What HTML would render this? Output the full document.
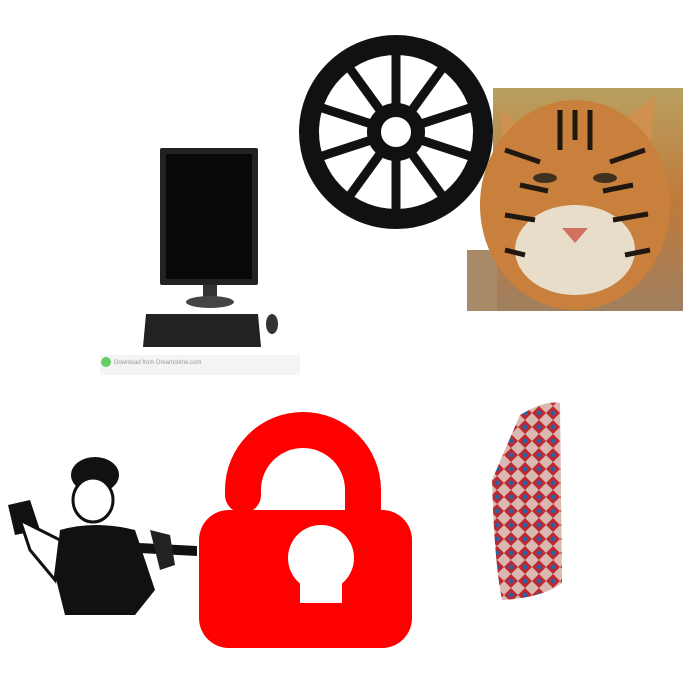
<!DOCTYPE html>
<html><head><meta charset="utf-8"><style>
html,body{margin:0;padding:0;background:#fff;width:700px;height:700px;overflow:hidden;font-family:"Liberation Sans",sans-serif}
svg{position:absolute;left:0;top:0}
</style></head><body>
<svg width="700" height="700" viewBox="0 0 700 700">
<defs>
<linearGradient id="tg" x1="0" y1="0" x2="0" y2="1"><stop offset="0" stop-color="#b8a060"/><stop offset="0.5" stop-color="#c07a3a"/><stop offset="1" stop-color="#a08060"/></linearGradient>
<pattern id="bp" width="14" height="14" patternUnits="userSpaceOnUse"><rect width="14" height="14" fill="#d8b8b0"/><path d="M0 7L7 0L14 7L7 14Z" fill="#c02830"/><circle cx="7" cy="7" r="2.5" fill="#3060a0"/></pattern>
</defs>
<g>
<rect x="493" y="88" width="190" height="223" fill="url(#tg)"/>
<rect x="467" y="250" width="30" height="61" fill="#a88a68"/>
<path d="M500 110l25 20-20 30z M655 95l-30 25 25 30z" fill="#d09050"/>
<ellipse cx="575" cy="205" rx="95" ry="105" fill="#c8803c"/>
<ellipse cx="575" cy="250" rx="60" ry="45" fill="#e8ddc8"/>
<path d="M505 150l35 12M610 162l35-12M520 185l28 6M603 191l30-6M560 110v40M590 110v40M505 215l30 5M613 220l35-6M575 110v30M505 250l20 5M625 255l25-5" stroke="#201810" stroke-width="5"/>
<ellipse cx="545" cy="178" rx="12" ry="5" fill="#403020"/>
<ellipse cx="605" cy="178" rx="12" ry="5" fill="#403020"/>
<path d="M562 228h26l-13 15z" fill="#d07060"/>
</g>
<g transform="translate(396,132)">
<circle r="87" fill="none" stroke="#111" stroke-width="20"/>
<circle r="22" fill="none" stroke="#111" stroke-width="14"/>
<g stroke="#111" stroke-width="9">
<line x1="0" y1="-28" x2="0" y2="-80" transform="rotate(0)"/>
<line x1="0" y1="-28" x2="0" y2="-80" transform="rotate(36)"/>
<line x1="0" y1="-28" x2="0" y2="-80" transform="rotate(72)"/>
<line x1="0" y1="-28" x2="0" y2="-80" transform="rotate(108)"/>
<line x1="0" y1="-28" x2="0" y2="-80" transform="rotate(144)"/>
<line x1="0" y1="-28" x2="0" y2="-80" transform="rotate(180)"/>
<line x1="0" y1="-28" x2="0" y2="-80" transform="rotate(216)"/>
<line x1="0" y1="-28" x2="0" y2="-80" transform="rotate(252)"/>
<line x1="0" y1="-28" x2="0" y2="-80" transform="rotate(288)"/>
<line x1="0" y1="-28" x2="0" y2="-80" transform="rotate(324)"/>
</g>
</g>
<g>
<rect x="160" y="148" width="98" height="137" fill="#222" rx="2"/>
<rect x="166" y="154" width="86" height="125" fill="#080808"/>
<rect x="203" y="285" width="14" height="14" fill="#333"/>
<ellipse cx="210" cy="302" rx="24" ry="6" fill="#444"/>
<path d="M146 314h112l3 33h-118z" fill="#222"/>
<ellipse cx="272" cy="324" rx="6" ry="10" fill="#333"/>
<rect x="100" y="355" width="200" height="20" fill="#f4f4f4"/>
<circle cx="106" cy="362" r="5" fill="#6c6"/>
<text x="114" y="364" font-size="6" fill="#999">Download from Dreamstime.com</text>
</g>
<g>
<ellipse cx="95" cy="475" rx="24" ry="18" fill="#111"/>
<ellipse cx="93" cy="500" rx="20" ry="22" fill="#fff" stroke="#111" stroke-width="3"/>
<path d="M45 538l152 8v10l-152-8z" fill="#111"/>
<path d="M8 505l22-5 10 30-25 5z" fill="#111"/>
<path d="M60 530q35-10 75 0l20 60-20 25h-70l-10-40z" fill="#111"/>
<path d="M20 520l40 20-5 40-25-30z" fill="#fff" stroke="#111" stroke-width="3"/>
<path d="M150 530l20 5 5 30-15 5z" fill="#222"/>
</g>
<g>
<path d="M225 495v-5a78 78 0 0 1 156 0v20h-36v-20a42 42 0 0 0-84 0v5a18 18 0 0 1-36 0z" fill="#f00"/>
<rect x="199" y="510" width="213" height="138" rx="30" fill="#f00"/>
<circle cx="321" cy="558" r="33" fill="#fff"/>
<rect x="300" y="570" width="42" height="33" fill="#fff"/>
</g>
<g>
<path d="M520 415q25-15 40-12l2 180q-20 15-60 17-8-40-10-120z" fill="url(#bp)"/>
</g>
</svg>
</body></html>
